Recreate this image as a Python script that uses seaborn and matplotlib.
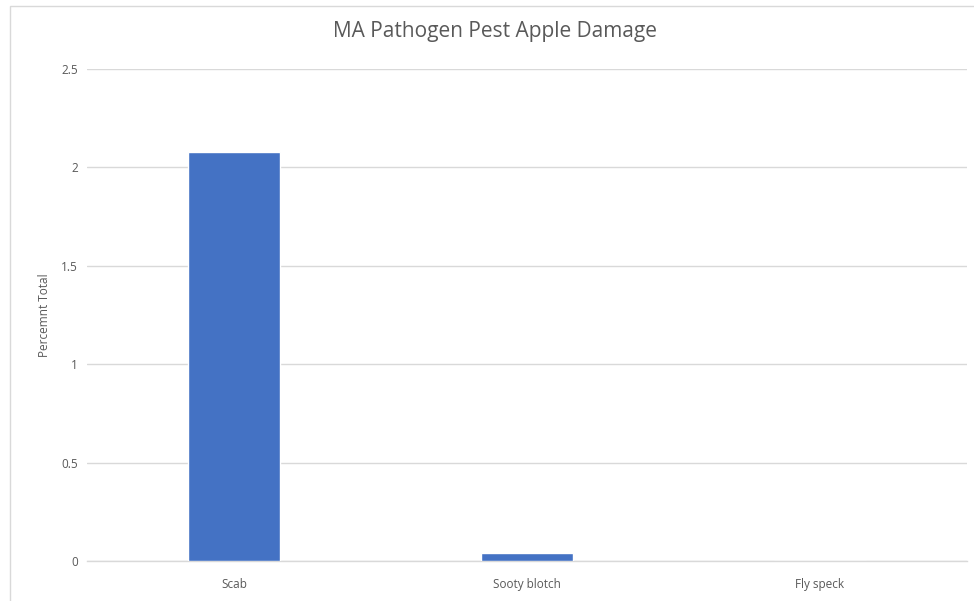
import matplotlib
matplotlib.use("Agg")
import matplotlib.pyplot as plt
import seaborn as sns
import pandas as pd
from matplotlib.patches import Rectangle

categories = ["Scab", "Sooty blotch", "Fly speck"]
values = [2.08, 0.04, 0.0]
yticks = [0, 0.5, 1, 1.5, 2, 2.5]
ytick_labels = ["0", "0.5", "1", "1.5", "2", "2.5"]
title = "MA Pathogen Pest Apple Damage"
ylabel = "Percemnt Total"

sns.set_theme(style="white")
plt.rcParams["font.family"] = ["Open Sans", "DejaVu Sans"]

df = pd.DataFrame({"cat": categories, "val": values})

fig = plt.figure(figsize=(9.74, 6.01), dpi=100)
ax = fig.add_axes([0.0898, 0.0666, 0.9025, 0.8184])

sns.barplot(data=df, x="cat", y="val", color="#4472C4", width=0.314,
            saturation=1, ax=ax, zorder=3)

ax.set_ylim(0, 2.5)
ax.set_xlim(-0.5, 2.5)
ax.set_yticks(yticks)
ax.set_yticklabels(ytick_labels)
ax.yaxis.grid(True, color="#d9d9d9", linewidth=1, zorder=0)
ax.xaxis.grid(False)
for s in ["top", "right", "left"]:
    ax.spines[s].set_visible(False)
ax.spines["bottom"].set_color("#d9d9d9")
ax.spines["bottom"].set_linewidth(1)
ax.tick_params(axis="both", length=0, labelsize=8.5, labelcolor="#595959")
ax.tick_params(axis="y", pad=7)
ax.tick_params(axis="x", pad=12)
ax.set_xlabel("")
ax.set_ylabel(ylabel, fontsize=8.5, color="#595959", labelpad=7)
fig.text(495 / 974, 1 - 32 / 601, title, fontsize=15, color="#595959",
         ha="center", va="center")

fig.patches.append(Rectangle((10 / 974, -0.1), 1.2, (601 - 6) / 601 + 0.1,
                             transform=fig.transFigure, fill=False,
                             edgecolor="#d9d9d9", linewidth=1))

fig.savefig("out.png", dpi=100, facecolor="white")
